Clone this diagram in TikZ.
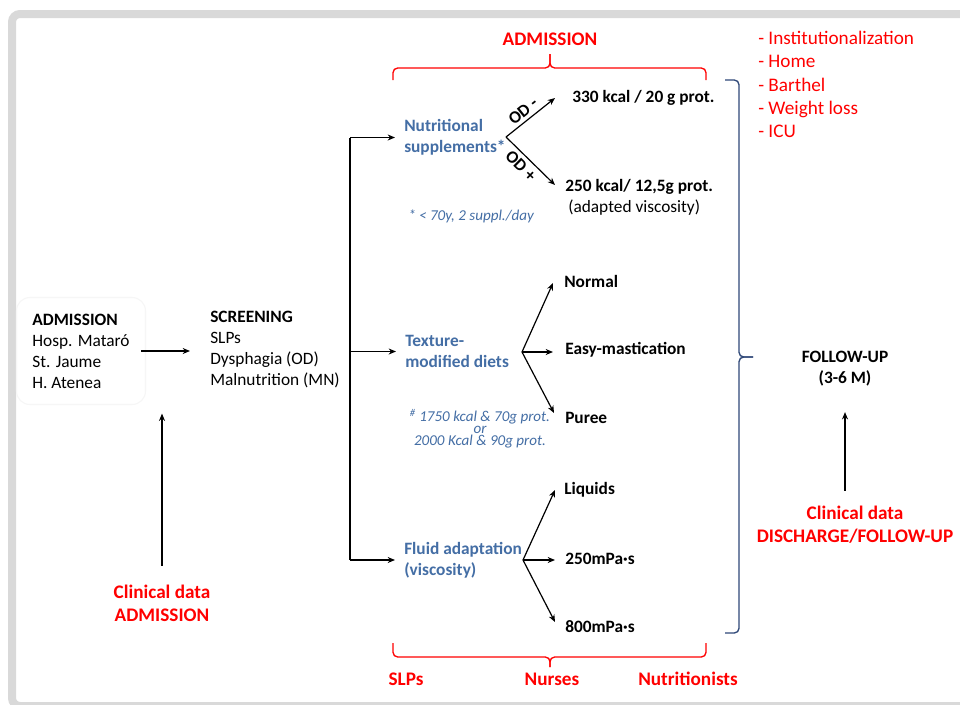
\documentclass[tikz,border=0pt]{standalone}
\usepackage{fontspec}
\setmainfont{Carlito}
\usetikzlibrary{arrows.meta}
\definecolor{framegray}{RGB}{217,217,217}
\definecolor{boxgray}{RGB}{246,246,246}
\definecolor{catblue}{RGB}{68,110,165}
\definecolor{bracenavy}{RGB}{47,72,120}
\definecolor{alert}{RGB}{255,0,0}

\begin{document}
\begin{tikzpicture}[x=0.75pt,y=-0.75pt,
  base/.style={inner sep=0pt, font=\fontsize{13}{15.75}\selectfont},
  plain/.style={base, anchor=west, align=left},
  bold/.style={plain, font=\fontsize{13}{15.75}\selectfont\bfseries},
  cat/.style={bold, text=catblue},
  note/.style={inner sep=0pt, text=catblue, font=\fontsize{11.3}{9}\selectfont\itshape},
  redlbl/.style={inner sep=0pt, text=alert, align=center, font=\fontsize{14.4}{17.4}\selectfont\bfseries},
  admbox/.style={base, draw=boxgray, line width=0.8pt, rounded corners=10pt, align=left,
    minimum width=96.75pt, minimum height=80.25pt},
  arr/.style={-{Stealth[length=5.5pt,width=4.5pt]}, line width=0.9pt},
  bracket/.style={line width=1pt, rounded corners=3.5pt},
  odlbl/.style={base, font=\fontsize{13}{15.75}\selectfont\bfseries, sloped},
]
\useasboundingbox (0,0) rectangle (960,704);
\fill[white] (0,0) rectangle (960,704);
% outer frame
\draw[framegray, line width=6pt, rounded corners=6pt] (12,14) rectangle (990,706);

% admission and screening
\node[admbox] (adm) at (81,351) {\textbf{ADMISSION}\\Hosp. Mataró\\St. Jaume\\H. Atenea};
\node[plain] (scr) at (210,350) {\textbf{SCREENING}\\SLPs\\Dysphagia (OD)\\Malnutrition (MN)};
\draw[arr] ([xshift=-3.75pt]adm.east) -- ([xshift=-15pt]adm.east -| scr.west);

% the three interventions
\node[cat] (ns) at (404,137.5) {Nutritional\\supplements*};
\node[cat] (tm) at (405,351.5) {Texture-\\modified diets};
\node[cat] (fa) at (404,560) {Fluid adaptation\\(viscosity)};
\coordinate (bus) at (350,0);
\draw[line width=0.9pt] (ns.west -| bus) -- (fa.west -| bus);
\foreach \n in {ns,tm,fa} \draw[arr] (\n.west -| bus) -- ([xshift=-6.75pt]\n.west);

% nutritional supplements
\coordinate (b1) at (506,137);
\node[bold] (s1) at (572,98) {330 kcal / 20 g prot.};
\node[bold] (s2) at (565,187) {250 kcal/ 12,5g prot.};
\node[plain] (s2v) at (568,208) {(adapted viscosity)};
\node[note, anchor=west] (sn) at (408,216) {* < 70y, 2 suppl./day};
\draw[arr] (b1) -- ([xshift=-12.75pt]s1.west)
  node[odlbl, pos=0.47, above=2.5pt] {OD -};
\draw[arr] (b1) -- ([xshift=-7.5pt,yshift=1.5pt]s2.west)
  node[odlbl, pos=0.45, below=3pt] {OD +};

% texture-modified diets
\coordinate (b2) at (522,352);
\node[bold] (n1) at (564,281) {Normal};
\node[bold] (n2) at (565,350) {Easy-mastication};
\node[bold] (n3) at (565,418) {Puree};
\node[note, align=center] (tn) at (480,429) {\textsuperscript{\#} 1750 kcal \& 70g prot.\\or\\ 2000 Kcal \& 90g prot.};
\draw[arr] (b2) -- ([xshift=-8.25pt,yshift=-1.5pt]n1.west);
\draw[arr] (b2) -- ([xshift=-9pt]b2 -| n2.west);
\draw[arr] (b2) -- ([xshift=-8.25pt,yshift=3.75pt]n3.west);

% fluid adaptation
\coordinate (b3) at (523,560);
\node[bold] (f1) at (564,490) {Liquids};
\node[bold] (f2) at (565,559) {250mPa·s};
\node[bold] (f3) at (565,627) {800mPa·s};
\draw[arr] (b3) -- ([xshift=-6.75pt]f1.west);
\draw[arr] (b3) -- ([xshift=-7.5pt]b3 -| f2.west);
\draw[arr] (b3) -- ([xshift=-7.5pt,yshift=3.75pt]f3.west);

% red braces and labels
\draw[alert, bracket] (393,80) -- (393,68) -- (550,68) -- (550,54);
\draw[alert, bracket] (706,80) -- (706,68) -- (550,68) -- (550,54);
\node[redlbl] (admt) at (550,39) {ADMISSION};
\draw[alert, bracket] (393,643) -- (393,657) -- (550,657) -- (550,667);
\draw[alert, bracket] (706,643) -- (706,657) -- (550,657) -- (550,667);
\node[redlbl] (slp) at (406,679) {SLPs};
\node[redlbl] (nur) at (552,679) {Nurses};
\node[redlbl] (nut) at (688,679) {Nutritionists};

% follow-up brace
\draw[bracenavy, bracket] (725,80) -- (739,80) -- (739,357) -- (753,357);
\draw[bracenavy, bracket] (725,633) -- (739,633) -- (739,357) -- (753,357);

% follow-up and outcomes
\node[base, align=center, font=\fontsize{13}{15.75}\selectfont\bfseries] (fu) at (845,369) {FOLLOW-UP\\(3-6 M)};
\node[base, anchor=north west, text=alert, align=left, font=\fontsize{14.4}{17.4}\selectfont] (out) at (758,31)
  {- Institutionalization\\- Home\\- Barthel\\- Weight loss\\- ICU};
\node[redlbl] (cdd) at (855,524.5) {Clinical data\\DISCHARGE/FOLLOW-UP};
\draw[arr, shorten <=11pt, shorten >=19pt] (cdd.north -| fu.south) -- (fu.south);

% clinical data at admission
\node[redlbl] (cda) at (162,603) {Clinical data\\ADMISSION};
\draw[arr, shorten <=14pt, shorten >=6.4pt] (cda.north) -- (cda.north |- adm.south);
\end{tikzpicture}
\end{document}
